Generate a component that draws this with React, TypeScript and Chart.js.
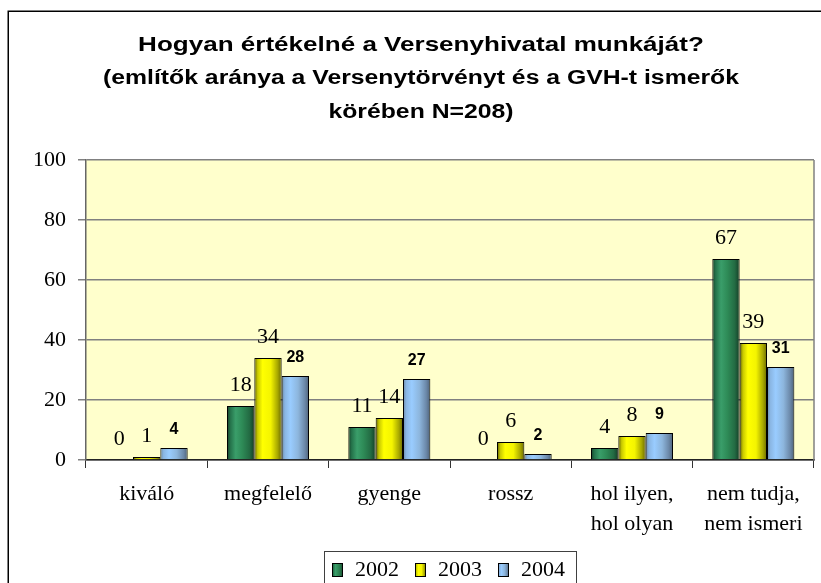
import React, { useEffect, useRef } from "react";
import { Chart, registerables } from "chart.js";

Chart.register(...registerables);

const categories: (string | string[])[] = [
  "kiváló",
  "megfelelő",
  "gyenge",
  "rossz",
  ["hol ilyen,", "hol olyan"],
  ["nem tudja,", "nem ismeri"],
];
const series2002 = [0, 18, 11, 0, 4, 67];
const series2003 = [1, 34, 14, 6, 8, 39];
const series2004 = [4, 28, 27, 2, 9, 31];
const seriesLabels = ["2002", "2003", "2004"];
const titleLines = [
  "Hogyan értékelné a Versenyhivatal munkáját?",
  "(említők aránya a Versenytörvényt és a GVH-t ismerők",
  "körében N=208)",
];
const yMin = 0;
const yMax = 100;
const yStep = 20;

const SERIF = "'Liberation Serif', 'Times New Roman', serif";
const SANS = "'Liberation Sans', Arial, sans-serif";

const gradientStops: [number, string][][] = [
  [
    [0, "#163f28"],
    [0.12, "#24724a"],
    [0.32, "#3a9e6a"],
    [0.55, "#2e8b57"],
    [0.82, "#236b43"],
    [1, "#143d26"],
  ],
  [
    [0, "#5e5e00"],
    [0.12, "#c8c800"],
    [0.3, "#ffff00"],
    [0.6, "#f4f400"],
    [0.85, "#a8a800"],
    [1, "#6a6a00"],
  ],
  [
    [0, "#6a88a8"],
    [0.12, "#8ab6e3"],
    [0.32, "#99ccff"],
    [0.6, "#8db6dd"],
    [0.85, "#6b88a8"],
    [1, "#4d6178"],
  ],
];
const baseColors = ["#2e8b57", "#ffff00", "#99ccff"];
const CAT_PCT = 0.676;

function makeGradient(ctx: CanvasRenderingContext2D, x0: number, x1: number, idx: number) {
  const g = ctx.createLinearGradient(x0, 0, x1, 0);
  gradientStops[idx].forEach(([o, c]) => g.addColorStop(o, c));
  return g;
}

function barBg(idx: number) {
  return (c: any) => {
    const chart = c.chart;
    const xs = chart.scales?.x;
    if (!xs || c.dataIndex === undefined || !chart.chartArea) return baseColors[idx];
    const center = xs.getPixelForValue(c.dataIndex);
    const catW = xs.width / categories.length;
    const bw = (catW * CAT_PCT) / 3;
    const left = center - (catW * CAT_PCT) / 2 + idx * bw;
    return makeGradient(chart.ctx, left, left + bw, idx);
  };
}

const seriesData = [series2002, series2003, series2004];

const decorPlugin = {
  id: "decor",
  beforeDraw(chart: any) {
    const { ctx, chartArea: a } = chart;
    ctx.save();
    ctx.fillStyle = "#ffffff";
    ctx.fillRect(0, 0, chart.width, chart.height);
    ctx.strokeStyle = "#000";
    ctx.lineWidth = 1.5;
    ctx.strokeRect(8.25, 11.25, 1000, 1000);
    ctx.fillStyle = "#FFFFCC";
    ctx.fillRect(a.left, a.top, a.right - a.left, a.bottom - a.top);
    ctx.restore();
  },
  afterDatasetsDraw(chart: any) {
    const { ctx } = chart;
    ctx.save();
    ctx.fillStyle = "#000";
    ctx.textAlign = "center";
    ctx.textBaseline = "middle";
    seriesData.forEach((arr, i) => {
      const meta = chart.getDatasetMeta(i);
      meta.data.forEach((el: any, j: number) => {
        if (i === 2) {
          ctx.font = `bold 16px ${SANS}`;
          ctx.fillText(String(arr[j]), el.x, el.y - 18.5);
        } else {
          ctx.font = `22px ${SERIF}`;
          ctx.fillText(String(arr[j]), el.x, el.y - 21);
        }
      });
    });
    ctx.restore();
  },
  afterDraw(chart: any) {
    const { ctx, chartArea: a } = chart;
    ctx.save();
    // right border of plot
    ctx.strokeStyle = "#808080";
    ctx.lineWidth = 1.5;
    ctx.beginPath();
    ctx.moveTo(a.right, a.top);
    ctx.lineTo(a.right, a.bottom);
    ctx.stroke();

    // title
    ctx.fillStyle = "#000";
    ctx.textAlign = "center";
    ctx.textBaseline = "alphabetic";
    const baselines = [51, 84, 117.5];
    const sizes = [20.5, 19.5, 19.5];
    titleLines.forEach((t, i) => {
      ctx.save();
      ctx.translate(421, baselines[i]);
      ctx.scale(1.27, 1);
      ctx.font = `bold ${sizes[i]}px ${SANS}`;
      ctx.fillText(t, 0, 0);
      ctx.restore();
    });

    // legend
    ctx.font = `22px ${SERIF}`;
    const widths = seriesLabels.map((l) => ctx.measureText(l).width);
    const markerW = 11;
    const gap = 12;
    const itemGap = 16;
    const padL = 8;
    const padR = 11;
    const total =
      padL + padR + widths.reduce((s, w) => s + markerW + gap + w, 0) + itemGap * (seriesLabels.length - 1);
    const boxLeft = Math.round((a.left + a.right) / 2 - total / 2);
    const boxTop = 551;
    ctx.strokeStyle = "#404040";
    ctx.lineWidth = 1;
    ctx.strokeRect(boxLeft + 0.5, boxTop + 0.5, total, 80);
    let x = boxLeft + padL;
    ctx.textAlign = "left";
    ctx.textBaseline = "middle";
    seriesLabels.forEach((l, i) => {
      ctx.fillStyle = makeGradient(ctx, x, x + markerW, i);
      ctx.fillRect(x, 563, markerW, 14);
      ctx.strokeStyle = "#000";
      ctx.strokeRect(x + 0.5, 563.5, markerW - 1, 13);
      ctx.fillStyle = "#000";
      ctx.fillText(l, x + markerW + gap, 570);
      x += markerW + gap + widths[i] + itemGap;
    });
    ctx.restore();
  },
};

export default function App() {
  const ref = useRef<HTMLCanvasElement | null>(null);
  useEffect(() => {
    if (!ref.current) return;
    const chart = new Chart(ref.current, {
      type: "bar",
      data: {
        labels: categories as any,
        datasets: seriesLabels.map((label, i) => ({
          label,
          data: seriesData[i],
          backgroundColor: barBg(i) as any,
          borderColor: "#000",
          borderWidth: ((c: any) => (c.raw === 0 ? 0 : 1)) as any,
          categoryPercentage: CAT_PCT,
          barPercentage: 1,
        })),
      },
      options: {
        responsive: false,
        animation: false,
        devicePixelRatio: 1,
        layout: { padding: { left: 32, right: 7, top: 160, bottom: 43 } },
        plugins: {
          legend: { display: false },
          title: { display: false },
          tooltip: { enabled: false },
        },
        scales: {
          x: {
            grid: {
              offset: true,
              drawOnChartArea: false,
              tickLength: 8,
              color: "#333",
              lineWidth: 1,
            },
            border: { color: "#222", width: 1.5 },
            ticks: {
              font: { family: SERIF, size: 22, lineHeight: 1.364 },
              color: "#000",
              padding: 11,
              maxRotation: 0,
              autoSkip: false,
            },
            afterFit: (s: any) => {
              s.height = 80;
            },
          },
          y: {
            min: yMin,
            max: yMax,
            ticks: {
              stepSize: yStep,
              font: { family: SERIF, size: 22 },
              color: "#000",
              padding: 12,
            },
            grid: { color: "#808080", tickLength: 8, lineWidth: 1.5 },
            border: { color: "#666", width: 1.5 },
            afterFit: (s: any) => {
              s.width = 54;
            },
          },
        },
      },
      plugins: [decorPlugin],
    });
    return () => chart.destroy();
  }, []);
  return (
    <canvas
      ref={ref}
      width={821}
      height={583}
      style={{ position: "fixed", left: 0, top: 0, display: "block" }}
    />
  );
}
